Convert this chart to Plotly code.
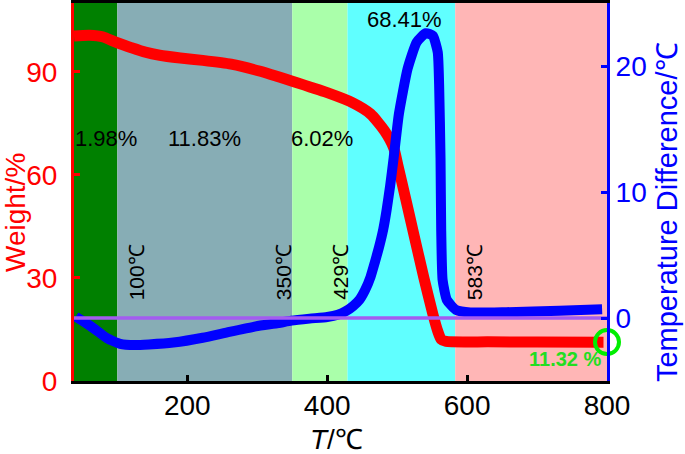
import plotly.graph_objects as go

# ---- data ----
weight_T = [38, 60, 80, 94, 110, 120, 140, 160.5, 190, 222, 262.6, 303, 349, 400, 436, 462, 482, 495, 501,
            512, 523, 538, 551, 558, 563, 570, 630, 700, 795]
weight_pct = [100.4, 100.6, 100.1, 98.9, 97.7, 97.0, 95.7, 94.8, 94.0, 93.3, 92.2, 90.2, 87.3, 83.9, 81.0,
              77.7, 72.8, 67.9, 62.8, 53.2, 43.4, 30.2, 19.5, 14.5, 12.1, 11.5, 11.4, 11.35, 11.3]

dta_T = [40.5, 55, 68.6, 85, 104, 125, 145, 180, 222, 260, 298, 330, 349, 375, 400, 415, 426, 437, 446, 454,
         462, 468, 474, 480, 485, 490, 495, 502.5, 515, 528, 541, 551, 558, 560, 562, 563, 565, 571, 584, 604.5,
         656, 732, 793]
dta_diff = [0.1, -0.4, -0.92, -1.6, -2.05, -2.15, -2.1, -1.95, -1.57, -1.1, -0.66, -0.4, -0.21, -0.05, 0.08,
            0.25, 0.52, 0.95, 1.44, 2.2, 3.27, 4.4, 5.6, 7.0, 8.6, 10.5, 12.7, 16.2, 19.8, 21.9, 22.6, 22.4, 21.1,
            18.5, 12.7, 6.9, 3.0, 1.44, 0.65, 0.44, 0.46, 0.57, 0.7]

stage_bounds = [38, 100, 350, 429, 583, 800]
stage_colors = ["#008000", "#87adb5", "#aaffaa", "#60ffff", "#ffb6b6"]
stage_loss_labels = ["1.98%", "11.83%", "6.02%", "68.41%"]
stage_loss_x = [84, 224, 392, 511]
stage_loss_y = [70.5, 70.5, 70.5, 105.3]
temp_labels = ["100℃", "350℃", "429℃", "583℃"]
temp_label_x = [127, 337, 418, 610]
residue_T = [800]
residue_pct = [11.32]

FONT = "Liberation Sans, Arial, sans-serif"

fig = go.Figure()

shapes = []
for i in range(len(stage_colors)):
    shapes.append(dict(type="rect", xref="x", yref="paper", x0=stage_bounds[i], x1=stage_bounds[i + 1],
                       y0=0, y1=1, fillcolor=stage_colors[i], line=dict(width=0), layer="below"))

fig.add_trace(go.Scatter(x=weight_T, y=weight_pct, mode="lines", yaxis="y",
                         line=dict(color="#ff0000", width=11, shape="spline", smoothing=0.6),
                         showlegend=False))
fig.add_trace(go.Scatter(x=dta_T, y=dta_diff, mode="lines", yaxis="y2",
                         line=dict(color="#0000ff", width=10, shape="spline", smoothing=0.5),
                         showlegend=False))
fig.add_trace(go.Scatter(x=[stage_bounds[0], stage_bounds[-1]], y=[0, 0], mode="lines", yaxis="y2",
                         line=dict(color="#a35cf0", width=3.5), showlegend=False))
fig.add_trace(go.Scatter(x=residue_T, y=residue_pct, mode="markers", yaxis="y", cliponaxis=False,
                         marker=dict(symbol="circle-open", size=24, color="#00ee00",
                                     line=dict(color="#00ee00", width=4)),
                         showlegend=False))

annotations = []
for txt, x, y in zip(stage_loss_labels, stage_loss_x, stage_loss_y):
    annotations.append(dict(x=x, y=y, xref="x", yref="y", text=txt, showarrow=False,
                            xanchor="center", yanchor="middle",
                            font=dict(family=FONT, size=22, color="black")))
for txt, x in zip(temp_labels, temp_label_x):
    annotations.append(dict(x=x, y=31.7, xref="x", yref="y", text=txt, showarrow=False, textangle=-90,
                            xanchor="center", yanchor="middle",
                            font=dict(family=FONT, size=21, color="black")))
annotations.append(dict(x=740, y=6.3, xref="x", yref="y", text="<b>11.32 %</b>", showarrow=False,
                        xanchor="center", yanchor="middle",
                        font=dict(family=FONT, size=20, color="#22dd22")))
annotations.append(dict(x=-0.1107, y=0.447, xref="paper", yref="paper", text="Weight/%", showarrow=False,
                        xanchor="center", yanchor="middle",
                        textangle=-90, font=dict(family=FONT, size=28, color="#ff0000")))
annotations.append(dict(x=1.1126, y=0.447, xref="paper", yref="paper", text="Temperature Difference/℃",
                        xanchor="center", yanchor="middle",
                        showarrow=False, textangle=-90, font=dict(family=FONT, size=29, color="#0000ff")))
annotations.append(dict(x=0.4916, y=-0.156, xref="paper", yref="paper", text="<i>T</i>/℃", showarrow=False,
                        xanchor="center", yanchor="middle",
                        font=dict(family=FONT, size=28, color="black")))

fig.update_layout(
    width=685, height=454,
    margin=dict(l=74, r=78, t=3, b=73, autoexpand=False),
    paper_bgcolor="white", plot_bgcolor="white",
    shapes=shapes, annotations=annotations,
    font=dict(family=FONT),
    xaxis=dict(range=[stage_bounds[0], stage_bounds[-1]], tickvals=[200, 400, 600, 800],
               ticks="inside", ticklen=6, tickwidth=3, tickcolor="black", ticklabelstandoff=-3,
               showline=True, linewidth=3, linecolor="black", mirror=True,
               showgrid=False, zeroline=False,
               tickfont=dict(family=FONT, size=28, color="black")),
    yaxis=dict(range=[0, 110], tickvals=[0, 30, 60, 90], ticks="inside", ticklen=6, tickwidth=3,
               tickcolor="#ff0000", showline=True, linewidth=3, linecolor="#ff0000", ticklabelstandoff=8,
               showgrid=False, zeroline=False,
               tickfont=dict(family=FONT, size=28, color="#ff0000")),
    yaxis2=dict(range=[-5, 25], tickvals=[0, 10, 20], overlaying="y", side="right",
                ticks="inside", ticklen=6, tickwidth=3, tickcolor="#0000ff", ticklabelstandoff=0,
                showline=True, linewidth=3, linecolor="#0000ff",
                showgrid=False, zeroline=False,
                tickfont=dict(family=FONT, size=28, color="#0000ff")),
)

fig.write_html("out.html", config={"displayModeBar": False},
               post_script="document.body.style.margin='0px';")
